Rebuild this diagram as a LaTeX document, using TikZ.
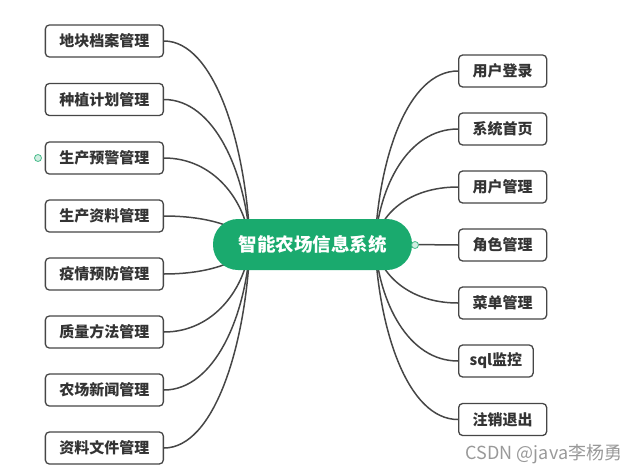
\documentclass[tikz,border=0pt]{standalone}
\usepackage{fontspec}
\setmainfont{Noto Sans CJK SC}
\usepackage{tikz}
\usepackage{xcolor}
\usetikzlibrary{backgrounds}
\definecolor{mindgreen}{RGB}{26,170,110}
\definecolor{linegray}{RGB}{70,70,70}
\tikzset{
    topic-box/.style = {draw=linegray, fill=white, line width=1.3pt, rectangle, rounded corners=4pt, minimum height=32pt, inner xsep=14pt, font=\fontsize{15pt}{17pt}\selectfont\bfseries, text=black!80},
    root-box/.style = {fill=mindgreen, rectangle, rounded corners=25pt, minimum width=199pt, minimum height=51pt, text=white, font=\fontsize{18.5pt}{20pt}\selectfont\bfseries},
    branch/.style = {draw=linegray, line width=1.5pt},
    fold-mark/.style = {draw=mindgreen!80, fill=mindgreen!20, line width=0.8pt},
}
\begin{document}
\begin{tikzpicture}[x=1pt, y=-1pt]
\useasboundingbox (0,0) rectangle (637,474);
% centre topic
\node[root-box] (root) at (312.5,244.5) {智能农场信息系统};
\coordinate (hubL) at (250,244);
\coordinate (hubR) at (375,244);
% left side
\node[topic-box, anchor=east] (l1) at (164,41) {地块档案管理};
\node[topic-box, anchor=east] (l2) at (164,99.5) {种植计划管理};
\node[topic-box, anchor=east] (l3) at (164,158) {生产预警管理};
\node[topic-box, anchor=east] (l4) at (164,216) {生产资料管理};
\node[topic-box, anchor=east] (l5) at (164,274) {疫情预防管理};
\node[topic-box, anchor=east] (l6) at (164,332) {质量方法管理};
\node[topic-box, anchor=east] (l7) at (164,390) {农场新闻管理};
\node[topic-box, anchor=east] (l8) at (164,448) {资料文件管理};
% right side
\node[topic-box, anchor=west] (r1) at (458,71) {用户登录};
\node[topic-box, anchor=west] (r2) at (458,129) {系统首页};
\node[topic-box, anchor=west] (r3) at (458,187) {用户管理};
\node[topic-box, anchor=west] (r4) at (458,245) {角色管理};
\node[topic-box, anchor=west] (r5) at (458,303) {菜单管理};
\node[topic-box, anchor=west, inner xsep=11pt] (r6) at (458,361) {sql监控};
\node[topic-box, anchor=west] (r7) at (458,419.5) {注销退出};
\begin{scope}[on background layer]
\draw[branch] (l1.east) .. controls +(50,0) and +(-4,-101) .. (hubL);
\draw[branch] (l2.east) .. controls +(50,0) and +(-4,-72) .. (hubL);
\draw[branch] (l3.east) .. controls +(50,0) and +(-4,-43) .. (hubL);
\draw[branch] (l4.east) .. controls +(50,0) and +(-4,-14) .. (hubL);
\draw[branch] (l5.east) .. controls +(50,0) and +(-4,15) .. (hubL);
\draw[branch] (l6.east) .. controls +(50,0) and +(-4,44) .. (hubL);
\draw[branch] (l7.east) .. controls +(50,0) and +(-4,73) .. (hubL);
\draw[branch] (l8.east) .. controls +(50,0) and +(-4,102) .. (hubL);
\draw[branch] (r1.west) .. controls +(-50,0) and +(4,-87) .. (hubR);
\draw[branch] (r2.west) .. controls +(-50,0) and +(4,-58) .. (hubR);
\draw[branch] (r3.west) .. controls +(-50,0) and +(4,-29) .. (hubR);
\draw[branch] (r5.west) .. controls +(-50,0) and +(4,29) .. (hubR);
\draw[branch] (r6.west) .. controls +(-50,0) and +(4,58) .. (hubR);
\draw[branch] (r7.west) .. controls +(-50,0) and +(4,87) .. (hubR);
\end{scope}
\draw[branch] (root.east) -- (r4.west);
% fold markers
\draw[fold-mark] (38,158) circle (3.5);
\draw[fold-mark] (415,245) circle (3.5);
% watermark
\node[text=black!40, font=\fontsize{18pt}{20pt}\selectfont] (mark) at (544,454) {CSDN @java李杨勇};
\end{tikzpicture}
\end{document}
